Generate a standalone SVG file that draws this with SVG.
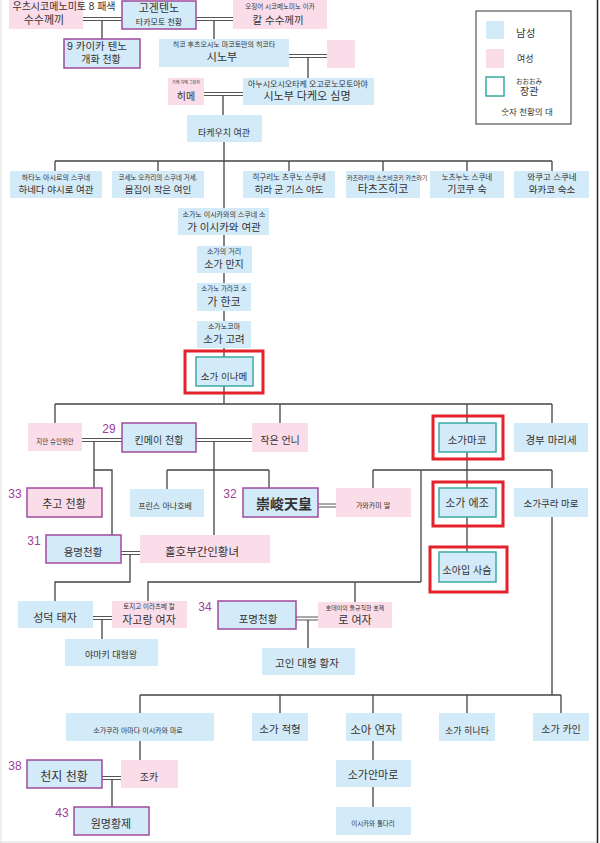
<svg xmlns="http://www.w3.org/2000/svg" width="600" height="843" viewBox="0 0 600 843">
<style>
text{font-family:'Liberation Sans','Noto Sans CJK KR',sans-serif;fill:#333;text-anchor:middle}
text.s{text-anchor:start}
.m{fill:#d3eaf8}
.f{fill:#fadde9}
.emp{stroke:#a04a9c;stroke-width:1.5}
.oo{stroke:#3aaaa2;stroke-width:1.5}
.hl{fill:none;stroke:#e3222b;stroke-width:3}
.num{fill:#a0409a;font-size:12px}
.c path{fill:none;stroke:#444;stroke-width:1.3}
.c .d{stroke:#555;stroke-width:1}
</style>
<rect width="600" height="843" fill="#fff"/>
<path d="M1 0V843M0 842H597" stroke="#ddd" stroke-width="1"/>
<path d="M597.5 0V843" stroke="#222" stroke-width="1.5"/>

<g id="connectors" class="c">
<path class="d" d="M83 17.5H122M83 20.5H122M196 17.5H233M196 20.5H233M289 54.5H327M289 57.5H327M204 92.5H243M204 95.5H243M82 438.5H122M82 441.5H122M196 438.5H252M196 441.5H252M318 504H336M318 507H336M121 551.5H140M121 554.5H140M93 616.5H112M93 619.5H112M296 617H318M296 620H318M102 776.5H121M102 779.5H121"/>
<path d="M102 20.5V39M214 20.5V39M308 57.5V78M223 95.5V115M224 142V208M55 161H552M55 161V171M158 161V171M289 161V171M383 161V171M467 161V171M552 161V171M224 235V246M224 273V283M224 311V321M224 348V357M224 386V404M55 404H552M55 404V423M280 404V423M467 404V423M552 404V423M94 441.5V488M94 470H112V535M214 441.5V535M167 470H269M167 470V489M269 470V488M467 452V488M373 470H552M373 470V488M421 470V582M552 470V488M552 517V695M467 517V552M130 554.5V582H55V601M148 601V582H421M355 582V602M102 619.5V639M308 620V648M140 695H561M140 695V713M280 695V713M373 695V713M467 695V713M561 695V713M140 741V760M112 779.5V807M373 741V760M373 787V807"/>
</g>

<g id="utsushikome"><rect class="f" x="9" y="0" width="74" height="29"/><text x="64" y="10" font-size="10">우츠시코메노미토 8 패색</text><text x="44" y="24" font-size="11">수수께끼</text></g>
<g id="kogen"><rect class="m emp" x="122" y="1" width="74" height="28"/><text x="159" y="12" font-size="11">고겐텐노</text><text x="159" y="25" font-size="8">타카모토 천황</text></g>
<g id="ikagashikome"><rect class="f" x="233" y="0" width="94" height="29"/><text x="280" y="9" font-size="6.5">오징어 시코메노미노 이카</text><text x="278" y="24" font-size="10.5">칼 수수께끼</text></g>
<g id="kaika"><rect class="m emp" x="64" y="39" width="76" height="29"/><text x="97" y="50" font-size="10.5">9 카이카 텐노</text><text x="101" y="63" font-size="10">개화 천황</text></g>
<g id="hikofutsu"><rect class="m" x="159" y="39" width="130" height="28"/><text x="224" y="47" font-size="7">히코 후츠오시노 마코토만의 히코타</text><text x="222" y="61" font-size="11">시노부</text></g>
<g id="wife1"><rect class="f" x="327" y="40" width="28" height="28"/></g>
<g id="hime"><rect class="f" x="168" y="78" width="36" height="27"/><text x="186" y="84" font-size="4">가케 히메 그림자</text><text x="186" y="100" font-size="10">히메</text></g>
<g id="takeo"><rect class="m" x="243" y="78" width="131" height="27"/><text x="308" y="87" font-size="8">아누시오시오타케 오고로노모토아야</text><text x="307" y="100" font-size="11">시노부 다케오 심명</text></g>
<g id="takeuchi"><rect class="m" x="187" y="115" width="75" height="27"/><text x="224" y="136" font-size="9">타케우치 여관</text></g>

<g id="hata"><rect class="m" x="10" y="171" width="92" height="27"/><text x="56" y="180" font-size="7">하타노 아시로의 스쿠네</text><text x="56" y="193" font-size="9.5">하네다 야시로 여관</text></g>
<g id="kose"><rect class="m" x="112" y="171" width="92" height="27"/><text x="158" y="180" font-size="6.5">코세노 오카리의 스쿠네 거세.</text><text x="158" y="193" font-size="9.5">몸집이 작은 여인</text></g>
<g id="heguri"><rect class="m" x="243" y="171" width="92" height="27"/><text x="289" y="180" font-size="7.5">히구리노 츠쿠노 스쿠네</text><text x="289" y="193" font-size="9.5">히라 군 기스 야도</text></g>
<g id="katsuragi"><rect class="m" x="346" y="171" width="74" height="27"/><text class="s" x="347" y="180" font-size="6">카즈라키의 소츠비코키 카츠라기</text><text x="383" y="193" font-size="11">타츠즈히코</text></g>
<g id="kinotsuno"><rect class="m" x="430" y="171" width="74" height="27"/><text x="467" y="180" font-size="7.5">노츠누노 스쿠네</text><text x="467" y="193" font-size="10">기코쿠 숙</text></g>
<g id="wakugo"><rect class="m" x="514" y="171" width="75" height="27"/><text x="552" y="180" font-size="8.5">와쿠고 스쿠네</text><text x="552" y="193" font-size="9.5">와카코 숙소</text></g>

<g id="ishikawa"><rect class="m" x="178" y="208" width="91" height="27"/><text x="224" y="217" font-size="7">소가노 이시카와의 스쿠네 소</text><text x="224" y="231" font-size="10.5">가 이시카와 여관</text></g>
<g id="machi"><rect class="m" x="197" y="246" width="55" height="27"/><text x="224" y="254" font-size="7">소가의 거리</text><text x="224" y="268" font-size="10">소가 만지</text></g>
<g id="karako"><rect class="m" x="197" y="283" width="54" height="28"/><text x="224" y="291" font-size="6.5">소가노 가라코 소</text><text x="224" y="306" font-size="11">가 한코</text></g>
<g id="koma"><rect class="m" x="197" y="321" width="54" height="27"/><text x="224" y="329" font-size="7">소가노코마</text><text x="224" y="343" font-size="10.5">소가 고려</text></g>
<g id="iname"><rect class="m oo" x="196" y="357" width="57" height="29"/><rect class="hl" x="185" y="351" width="78" height="42"/><text x="224" y="380" font-size="9.5">소가 이나메</text></g>

<g id="jian"><rect class="f" x="28" y="423" width="54" height="28"/><text x="55" y="444" font-size="6.5">지안 슈인위안</text></g>
<g id="kinmei"><rect class="m emp" x="122" y="423" width="74" height="29"/><text x="159" y="444" font-size="10">킨메이 천황</text><text class="num" x="109" y="433">29</text></g>
<g id="oane"><rect class="f" x="252" y="423" width="56" height="29"/><text x="280" y="444" font-size="10">작은 언니</text></g>
<g id="umako"><rect class="m oo" x="439" y="423" width="57" height="29"/><rect class="hl" x="433" y="416" width="70" height="43"/><text x="467" y="444" font-size="10.5">소가마코</text></g>
<g id="marise"><rect class="m" x="514" y="423" width="74" height="29"/><text x="551" y="444" font-size="10.5">경부 마리세</text></g>

<g id="suiko"><rect class="f emp" x="27" y="488" width="75" height="29"/><text x="64" y="508" font-size="11">추고 천황</text><text class="num" x="15" y="498">33</text></g>
<g id="anahobe"><rect class="m" x="130" y="489" width="74" height="28"/><text x="165" y="509" font-size="8">프린스 아나호베</text></g>
<g id="sushun"><rect class="m emp" x="243" y="488" width="75" height="29"/><text x="284" y="509" font-size="14" font-weight="bold">崇峻天皇</text><text class="num" x="230" y="498">32</text></g>
<g id="kawakami"><rect class="f" x="336" y="488" width="75" height="29"/><text x="373" y="508" font-size="7">가와카미 딸</text></g>
<g id="emishi"><rect class="m oo" x="439" y="488" width="57" height="29"/><rect class="hl" x="433" y="482" width="70" height="44"/><text x="467" y="507" font-size="11">소가 에조</text></g>
<g id="kuramaro"><rect class="m" x="514" y="488" width="74" height="29"/><text x="551" y="507" font-size="9.5">소가쿠라 마로</text></g>

<g id="yomei"><rect class="m emp" x="46" y="535" width="75" height="28"/><text x="83" y="556" font-size="10.5">용명천황</text><text class="num" x="34" y="545">31</text></g>
<g id="hashihito"><rect class="f" x="140" y="535" width="130" height="28"/><text x="202" y="556" font-size="11.5">홀호부간인황녀</text></g>
<g id="iruka"><rect class="m oo" x="439" y="552" width="57" height="30"/><rect class="hl" x="430" y="547" width="77" height="45"/><text x="467" y="574" font-size="10">소아입 사슴</text></g>

<g id="shotoku"><rect class="m" x="18" y="601" width="75" height="27"/><text x="55" y="622" font-size="11">성덕 태자</text></g>
<g id="tojiko"><rect class="f" x="112" y="601" width="75" height="27"/><text x="149" y="609" font-size="6.5">토지고 이라츠메 칼</text><text x="149" y="624" font-size="11">자고랑 여자</text></g>
<g id="yamashiro"><rect class="m" x="65" y="639" width="93" height="27"/><text x="111" y="658" font-size="9">야마키 대형왕</text></g>
<g id="jomei"><rect class="m emp" x="218" y="601" width="78" height="28"/><text x="258" y="623" font-size="10.5">포명천황</text><text class="num" x="205" y="611">34</text></g>
<g id="hote"><rect class="f" x="318" y="602" width="74" height="26"/><text x="355" y="610" font-size="6">호데이의 둘규칙한 호제</text><text x="355" y="624" font-size="11">로 여자</text></g>
<g id="furuhito"><rect class="m" x="262" y="648" width="93" height="27"/><text x="307" y="667" font-size="10.5">고인 대형 황자</text></g>

<g id="ishikawamaro"><rect class="m" x="66" y="713" width="148" height="28"/><text x="138" y="733" font-size="7">소가쿠라 아마다 이시카와 마로</text></g>
<g id="akae"><rect class="m" x="252" y="713" width="56" height="28"/><text x="280" y="733" font-size="10.5">소가 적형</text></g>
<g id="renshi"><rect class="m" x="346" y="713" width="56" height="28"/><text x="373" y="734" font-size="11.5">소아 연자</text></g>
<g id="hinata"><rect class="m" x="439" y="713" width="56" height="28"/><text x="467" y="734" font-size="9">소가 히나타</text></g>
<g id="kain"><rect class="m" x="533" y="713" width="56" height="28"/><text x="561" y="733" font-size="10">소가 카인</text></g>
<g id="tenji"><rect class="m emp" x="27" y="760" width="75" height="28"/><text x="64" y="781" font-size="12">천지 천황</text><text class="num" x="15" y="770">38</text></g>
<g id="meinoko"><rect class="f" x="121" y="760" width="57" height="28"/><text x="149" y="781" font-size="10">조카</text></g>
<g id="genmei"><rect class="m emp" x="74" y="807" width="75" height="28"/><text x="111" y="828" font-size="11">원명황제</text><text class="num" x="62" y="817">43</text></g>
<g id="anmaro"><rect class="m" x="336" y="760" width="75" height="27"/><text x="373" y="779" font-size="11">소가안마로</text></g>
<g id="tatari"><rect class="m" x="336" y="807" width="75" height="28"/><text x="373" y="826" font-size="6.5">이시카와 톨다리</text></g>

<g id="legend">
<rect x="476" y="11" width="95" height="113" fill="#fff" stroke="#555" stroke-width="1.2"/>
<rect class="m" x="486" y="21" width="18" height="18"/><text class="s" x="516" y="37" font-size="10.5">남성</text>
<rect class="f" x="486" y="49" width="18" height="19"/><text class="s" x="517" y="62" font-size="9">여성</text>
<rect x="486" y="77" width="18" height="19" fill="#fff" class="oo"/><text class="s" x="516" y="84" font-size="6.5">おおおみ</text><text class="s" x="520" y="95" font-size="10">장관</text>
<text x="527" y="115" font-size="8.5">숫자 천황의 대</text>
</g>
</svg>
